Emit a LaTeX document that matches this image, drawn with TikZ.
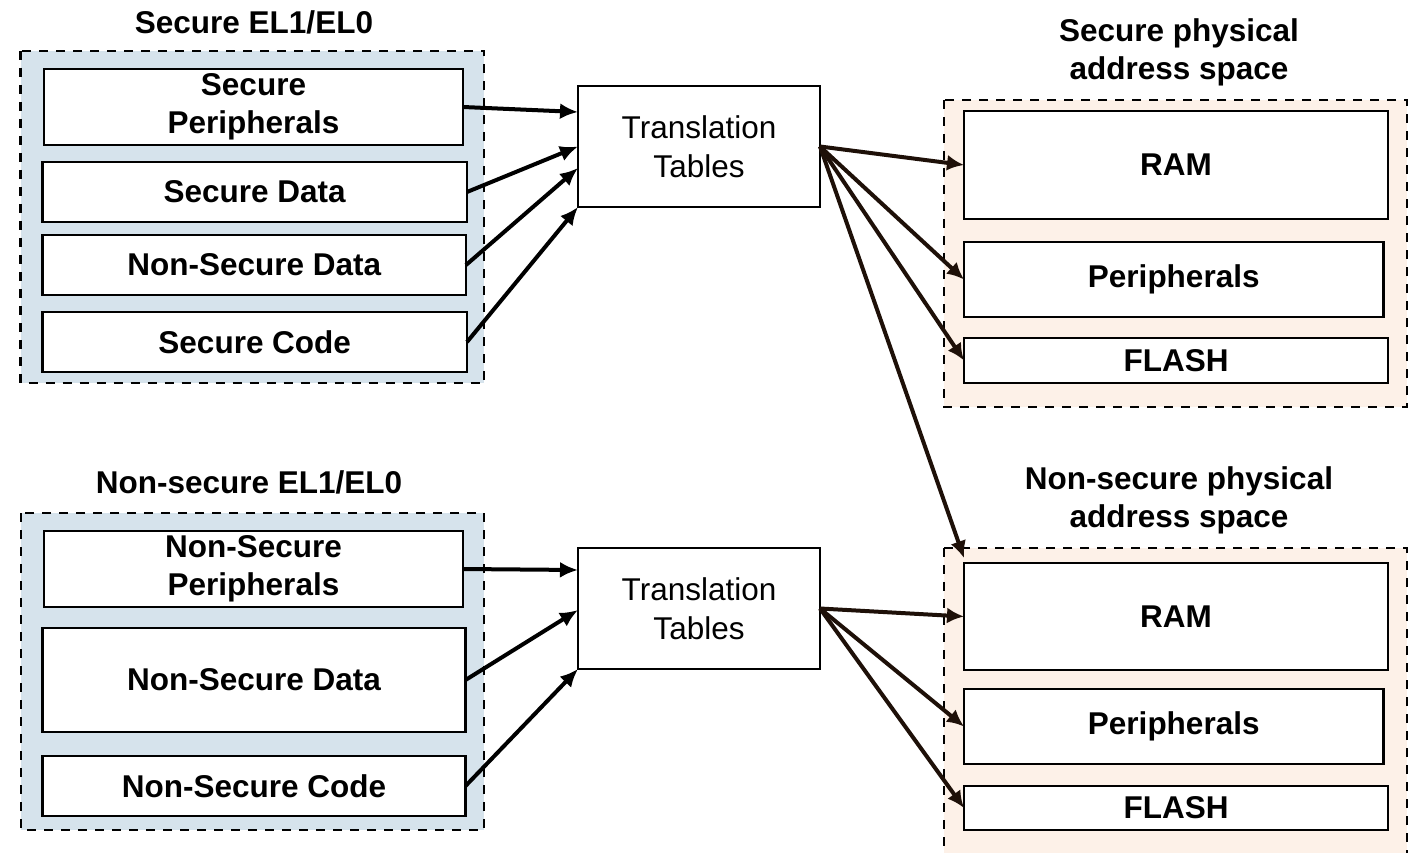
\documentclass[tikz,border=0pt]{standalone}
\usepackage{fontspec}
\setmainfont{Liberation Sans}
\usetikzlibrary{arrows.meta,fit,calc}

\definecolor{elfill}{RGB}{214,227,236}
\definecolor{pafill}{RGB}{253,241,232}
\definecolor{darrow}{RGB}{30,16,8}

\tikzset{
  region/.style={draw=black, line width=2.5pt, dash pattern=on 9pt off 8pt},
  elregion/.style={region, fill=elfill},
  paregion/.style={region, fill=pafill},
  cell/.style={draw=black, fill=white, line width=2.5pt, inner sep=0pt, outer sep=0pt},
  celltext/.style={align=center, inner sep=0pt, font=\fontsize{31.5pt}{38pt}\selectfont\bfseries},
  tttext/.style={align=center, inner sep=0pt, font=\fontsize{31.5pt}{39pt}\selectfont},
  heading/.style={align=center, inner sep=0pt, font=\fontsize{31.5pt}{38pt}\selectfont\bfseries},
  inarrow/.style={draw=black, line width=4pt, -{Latex[length=18pt,width=16pt]}},
  outarrow/.style={draw=darrow, line width=4pt, -{Latex[length=17pt,width=16pt]}, darrow},
}

\begin{document}
\begin{tikzpicture}[x=1pt, y=-1pt]
  \useasboundingbox (0,0) rectangle (1419,853);
  \clip (0,0) rectangle (1419,853);
  \fill[white] (0,0) rectangle (1419,853);

  % ---- Secure EL1/EL0 ----
  \node[heading] (secTitle) at (254,22) {Secure EL1/EL0};
  \draw[elregion] (20.5,51) rectangle (484,383);
  \node[cell, fit={(44,69) (463,145)}, label={[celltext]center:Secure\\Peripherals}] (sPer) {};
  \node[cell, fit={(42.5,162) (467,222)}, label={[celltext]center:Secure Data}] (sData) {};
  \node[cell, fit={(42.5,235) (466,295)}, label={[celltext]center:Non-Secure Data}] (sNsData) {};
  \node[cell, fit={(42.5,312) (467,372)}, label={[celltext]center:Secure Code}] (sCode) {};

  \node[cell, fit={(578,86) (820,207)}, label={[tttext]center:Translation\\Tables}] (tt1) {};

  % ---- Non-secure EL1/EL0 ----
  \node[heading] (nsTitle) at (249,482) {Non-secure EL1/EL0};
  \draw[elregion] (21,513) rectangle (484,830);
  \node[cell, fit={(44,531) (463,607)}, label={[celltext]center:Non-Secure\\Peripherals}] (nPer) {};
  \node[cell, fit={(42.5,628) (465.5,732)}, label={[celltext]center:Non-Secure Data}] (nData) {};
  \node[cell, fit={(42.5,756) (465.5,816)}, label={[celltext]center:Non-Secure Code}] (nCode) {};

  \node[cell, fit={(578,548) (820,669)}, label={[tttext]center:Translation\\Tables}] (tt2) {};

  % ---- Secure physical address space ----
  \node[heading] (spaTitle) at (1179,52.5) {Secure physical\\address space};
  \draw[paregion] (944,100) rectangle (1407,407);
  \node[cell, fit={(964,111) (1388,219)}, label={[celltext]center:RAM}] (sRam) {};
  \node[cell, fit={(964,242) (1383.5,317)}, label={[celltext]center:Peripherals}] (sPph) {};
  \node[cell, fit={(964,338) (1388,383)}, label={[celltext]center:FLASH}] (sFlash) {};

  % ---- Non-secure physical address space ----
  \node[heading] (npaTitle) at (1179,500.5) {Non-secure physical\\address space};
  \draw[paregion] (944,548) rectangle (1407,880);
  \node[cell, fit={(964,563) (1388,670)}, label={[celltext]center:RAM}] (nRam) {};
  \node[cell, fit={(964,689) (1383.5,764)}, label={[celltext]center:Peripherals}] (nPph) {};
  \node[cell, fit={(964,786) (1388,830)}, label={[celltext]center:FLASH}] (nFlash) {};

  % ---- virtual regions into the translation tables ----
  \draw[inarrow] (sPer.east) -- ([yshift=34.5pt]tt1.west);
  \draw[inarrow] (sData.east) -- (tt1.west);
  \draw[inarrow] (sNsData.east) -- ([yshift=-21.5pt]tt1.west);
  \draw[inarrow] (sCode.east) -- (tt1.south west);

  \draw[inarrow] (nPer.east) -- ([yshift=38.5pt]tt2.west);
  \draw[inarrow] (nData.east) -- ([yshift=-1.5pt]tt2.west);
  \draw[inarrow] (nCode.east) -- (tt2.south west);

  % ---- translation tables out to physical memory ----
  \draw[outarrow] (tt1.east) -- (sRam.west);
  \draw[outarrow] (tt1.east) -- (sPph.west);
  \draw[outarrow] (tt1.east) -- (sFlash.west);
  \draw[outarrow] (tt1.east) -- ([yshift=5pt]nRam.north west);

  \draw[outarrow] (tt2.east) -- (nRam.west);
  \draw[outarrow] (tt2.east) -- (nPph.west);
  \draw[outarrow] (tt2.east) -- (nFlash.west);
\end{tikzpicture}
\end{document}
